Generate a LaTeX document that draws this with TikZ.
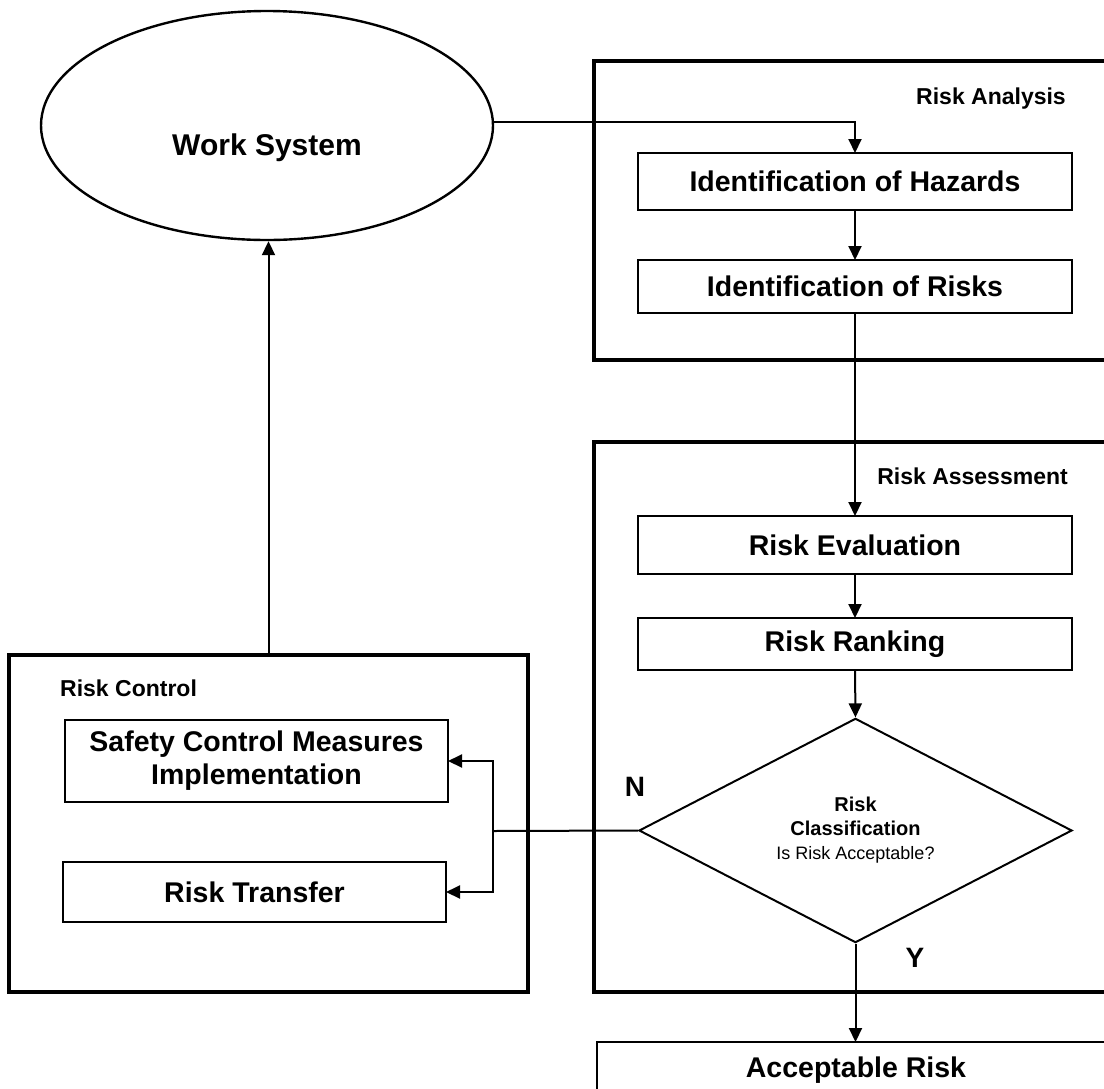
\documentclass[tikz,border=0pt]{standalone}
\usepackage{fontspec}
\setmainfont{Liberation Sans}
\usetikzlibrary{shapes.geometric,arrows.meta}
\begin{document}
\begin{tikzpicture}[x=1pt,y=-1pt,
  box/.style={draw, line width=2.4pt, inner sep=0pt, outer sep=0pt,
    font=\bfseries\fontsize{28.5}{33}\selectfont, align=center},
  container/.style={draw, line width=3.3pt, inner sep=0pt, outer sep=0pt},
  tag/.style={font=\bfseries\fontsize{23}{27}\selectfont, inner sep=0pt},
  flow/.style={line width=2pt, -{Triangle[length=14pt,width=13pt]}},
  plain/.style={line width=2pt},
  yn/.style={font=\bfseries\fontsize{28}{32}\selectfont, inner sep=0pt}]
\clip (0,0) rectangle (1104,1088);
\fill[white] (0,0) rectangle (1104,1088);

% group frames (right sides run off the page)
\node[container, minimum width=530, minimum height=299] (analysis) at (859,210.5) {};
\node[container, minimum width=530, minimum height=550] (assessment) at (859,717) {};
\node[container, minimum width=519, minimum height=337] (control) at (268.5,823.5) {};

\node[tag, anchor=base east] (analysislabel) at (1066,104) {Risk Analysis};
\node[tag, anchor=base east] (assessmentlabel) at (1068,484) {Risk Assessment};
\node[tag, anchor=base west] (controllabel) at (60,696) {Risk Control};

% work system
\node[draw, ellipse, line width=2.4pt, minimum width=452, minimum height=229,
  inner sep=0pt] (ws) at (267,125.5) {};
\node[font=\bfseries\fontsize{30}{34}\selectfont, inner sep=0pt, anchor=base]
  (wstext) at (267,155) {Work System};

% process steps
\node[box, minimum width=434, minimum height=57] (hazards) at (855,181.5) {Identification of Hazards};
\node[box, minimum width=434, minimum height=53] (risks) at (855,286.5) {Identification of Risks};
\node[box, minimum width=434, minimum height=58] (evaluation) at (855,545) {Risk Evaluation};
\node[box, minimum width=434, minimum height=52] (ranking) at (855,644) {Risk Ranking};
\node[diamond, draw, line width=2pt, minimum width=433, minimum height=219,
  inner sep=0pt, align=center, font=\bfseries\fontsize{20}{24}\selectfont]
  (decision) at (855.5,830.5)
  {Risk\\Classification\\{\mdseries\fontsize{18}{23}\selectfont Is Risk Acceptable?}};
\node[box, minimum width=383, minimum height=82] (scm) at (256.5,761) {Safety Control Measures\\Implementation};
\node[box, minimum width=383, minimum height=60] (transfer) at (254.5,892) {Risk Transfer};
\node[box, minimum width=518, minimum height=56] (accept) at (856,1070) {Acceptable Risk};

% connectors
\draw[flow] (ws.1.5) -| (hazards.north);
\draw[flow] (hazards.south) -- (risks.north);
\draw[flow] (risks.south) -- (evaluation.north);
\draw[flow] (evaluation.south) -- (ranking.north);
\draw[flow] (ranking.south) -- (decision.north);
\draw[flow] (decision.south) -- (decision.south |- accept.north);
\coordinate (split) at (493,831);
\draw[plain] (decision.west) -- (split);
\draw[flow] (split) |- (scm.east);
\draw[flow] (split) |- (transfer.east);
\draw[flow] (control.north) -- (control.north |- ws.south);

\node[yn] (nlabel) at (635,787) {N};
\node[yn] (ylabel) at (915,958) {Y};
\end{tikzpicture}
\end{document}
